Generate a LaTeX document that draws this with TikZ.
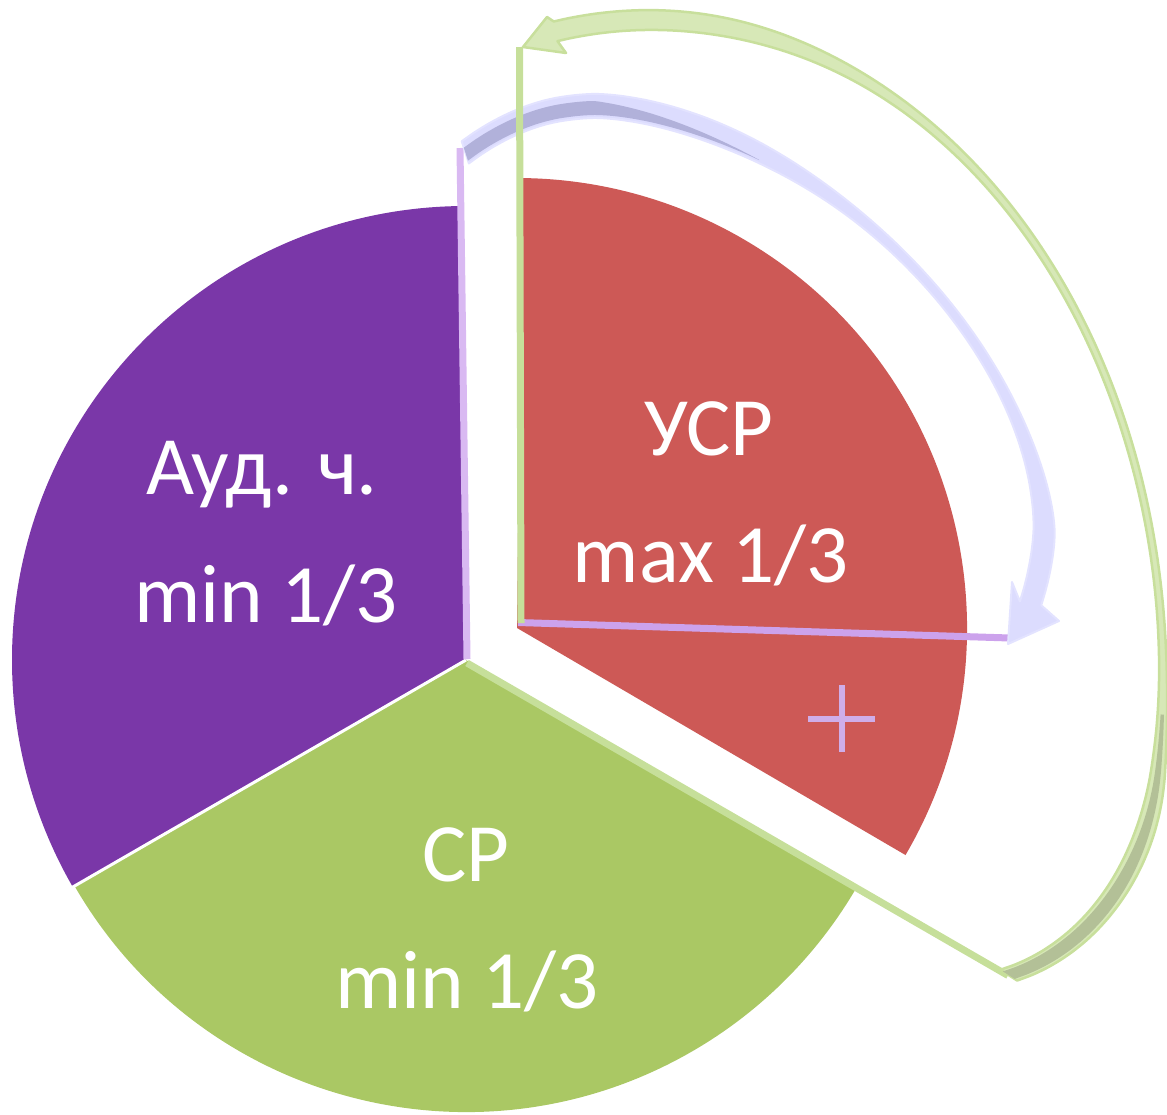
\documentclass[tikz,border=0pt]{standalone}
\usepackage{fontspec}
\setmainfont{Carlito}
\definecolor{purp}{HTML}{7A37A8}
\definecolor{grn}{HTML}{AAC864}
\definecolor{rd}{HTML}{CD5956}
\definecolor{lpurp}{HTML}{D9B9F2}
\definecolor{lgrn}{HTML}{C6DF9A}
\definecolor{lav}{HTML}{CCA2EC}
\definecolor{lavfill}{HTML}{DCDCFE}
\definecolor{lavedge}{HTML}{E3E3FF}
\definecolor{lavdark}{HTML}{B1B1DA}
\definecolor{gfill}{HTML}{D7E8B7}
\definecolor{gedge}{HTML}{C8DF9C}
\definecolor{gdark}{HTML}{B3C097}
\definecolor{plusc}{HTML}{CFAEE9}
\begin{document}
\begin{tikzpicture}[x=1pt,y=-1pt,
  lbl/.style={text=white, font=\fontsize{83}{100}\selectfont, anchor=base, inner sep=0pt},
  guide/.style={line width=7pt},
  declare function={
    lw(\t)=4+8/(1+(((\t-111)/52)^2)^4)+7/(1+(((\t+13)/25)^2)^2);
    lf(\t)=1-0.03*(max(0,\t-96)/14)^2;
    lcx(\t)=cos(\t)*abs(cos(\t))^0.176;
    lsy(\t)=sin(\t)*abs(sin(\t))^0.176;
    gw(\t)=3+7/(1+min(10,((\t+33)/26)^2)^4)+7/(1+(((\t-100)/30)^2)^2);
    gf(\t)=1-0.17*(min(0,\t+8)/24.6)^2;
    gd(\t)=7.5/(1+(((\t+33)/24)^2)^2)-0.5;
  }]
\useasboundingbox (0,0) rectangle (1167,1114);
% sectors
\fill[purp] (466,660) -- ++(-91:454) arc[start angle=-91, end angle=-210, radius=454] -- cycle;
\fill[grn] (466,660) -- ++(-210:452) arc[start angle=-210, end angle=-330, radius=452] -- cycle;
\fill[rd] (517,628) -- ++(30.3:450) arc[start angle=30.3, end angle=-89.4, radius=450] -- cycle;
\draw[white, line width=3pt] (466,660) -- ++(-210:458);
% guide lines
\draw[guide, lpurp] (467,659) -- (460,148);
\draw[guide, lgrn] (467,663) -- (1008,975.5);
\draw[guide, lav] (518,622.5) -- (1010,638);
% lavender curved arrow
\filldraw[fill=lavfill, draw=lavedge, line width=2pt, line join=round]
  plot[domain=111:-13, samples=63, smooth, variable=\t]
    ({595+(449*lf(\t)+lw(\t))*lcx(\t)}, {530-(424*lf(\t)+lw(\t))*lsy(\t)})
  -- (1059,621) -- (1008,644) -- (1012,582)
  -- plot[domain=-13:111, samples=63, smooth, variable=\t]
    ({595+(449*lf(\t)-lw(\t))*lcx(\t)}, {530-(424*lf(\t)-lw(\t))*lsy(\t)})
  -- cycle;
\fill[lavdark]
  plot[domain=111:64.5, samples=31, smooth, variable=\t]
    ({595+(449*lf(\t)-lw(\t)+3+(lw(\t)+2)*min(1,(\t-64)/26))*lcx(\t)},
     {530-(424*lf(\t)-lw(\t)+3+(lw(\t)+2)*min(1,(\t-64)/26))*lsy(\t)})
  -- plot[domain=64.5:111, samples=31, smooth, variable=\t]
    ({595+(449*lf(\t)-lw(\t)+3)*lcx(\t)}, {530-(424*lf(\t)-lw(\t)+3)*lsy(\t)})
  -- cycle;
% green vertical guide (over the lavender arrow)
\draw[guide, lgrn] (521,623) -- (519.5,47);
% green curved arrow
\filldraw[fill=gfill, draw=gedge, line width=2.5pt, line join=round]
  plot[domain=-32.6:100.6, samples=90, smooth, variable=\t]
    ({650+(513*gf(\t)+gw(\t))*cos(\t)}, {680-(660*gf(\t)+gw(\t))*sin(\t)})
  -- (547,17) -- (523,47) -- (566,53)
  -- plot[domain=100.6:-32.6, samples=90, smooth, variable=\t]
    ({650+(513*gf(\t)-gw(\t))*cos(\t)}, {680-(660*gf(\t)-gw(\t))*sin(\t)})
  -- cycle;
\fill[gdark]
  plot[domain=-32.6:-3, samples=25, smooth, variable=\t]
    ({650+(513*gf(\t)+gd(\t))*cos(\t)}, {680-(660*gf(\t)+gd(\t))*sin(\t)})
  -- plot[domain=-3:-32.6, samples=25, smooth, variable=\t]
    ({650+(513*gf(\t)-gd(\t))*cos(\t)}, {680-(660*gf(\t)-gd(\t))*sin(\t)})
  -- cycle;
% plus sign
\draw[plusc, line width=6pt] (808,719) -- (875,719) (842,685) -- (842,752);
% labels
\node[lbl] (aud) at (262,494) {Ауд. ч.};
\node[lbl] (audmin) at (266,622) {min 1/3};
\node[lbl] (usr) at (709,455) {УСР};
\node[lbl] (usrmax) at (711,582) {max 1/3};
\node[lbl] (sr) at (466,881) {СР};
\node[lbl] (srmin) at (467,1008) {min 1/3};
\end{tikzpicture}
\end{document}
